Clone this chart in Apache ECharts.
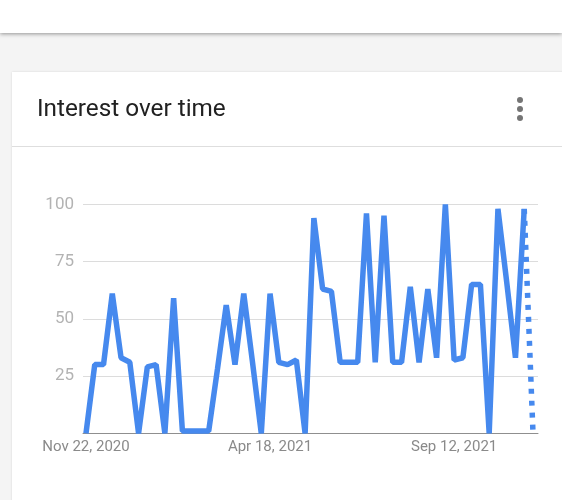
<!DOCTYPE html>
<html><head><meta charset="utf-8">
<script src="https://cdn.jsdelivr.net/npm/echarts@6/dist/echarts.min.js"></script>
<style>html,body{margin:0;padding:0;background:#f4f4f4;}#c{width:562px;height:500px;}</style>
</head><body><div id="c"></div>
<script>
const weeks = [
  "Nov 22, 2020","Nov 29, 2020","Dec 6, 2020","Dec 13, 2020","Dec 20, 2020","Dec 27, 2020",
  "Jan 3, 2021","Jan 10, 2021","Jan 17, 2021","Jan 24, 2021","Jan 31, 2021","Feb 7, 2021",
  "Feb 14, 2021","Feb 21, 2021","Feb 28, 2021","Mar 7, 2021","Mar 14, 2021","Mar 21, 2021",
  "Mar 28, 2021","Apr 4, 2021","Apr 11, 2021","Apr 18, 2021","Apr 25, 2021","May 2, 2021",
  "May 9, 2021","May 16, 2021","May 23, 2021","May 30, 2021","Jun 6, 2021","Jun 13, 2021",
  "Jun 20, 2021","Jun 27, 2021","Jul 4, 2021","Jul 11, 2021","Jul 18, 2021","Jul 25, 2021",
  "Aug 1, 2021","Aug 8, 2021","Aug 15, 2021","Aug 22, 2021","Aug 29, 2021","Sep 5, 2021",
  "Sep 12, 2021","Sep 19, 2021","Sep 26, 2021","Oct 3, 2021","Oct 10, 2021","Oct 17, 2021",
  "Oct 24, 2021","Oct 31, 2021","Nov 7, 2021","Nov 14, 2021"
];
const interest = [
  0, 30, 30, 61, 33, 31, 0, 29, 30, 0,
  59, 1, 1, 1, 1, 28, 56, 30, 61, 31,
  0, 61, 31, 30, 32, 0, 94, 63, 62, 31,
  31, 31, 96, 31, 95, 31, 31, 64, 31, 63,
  33, 100, 32, 33, 65, 65, 0, 98, 66, 33,
  98, 0
];
const xTickIndices = [0, 21, 42];
const yTickLabels = [25, 50, 75, 100];
const chartTitle = "Interest over time";

const last = interest.length - 1;
const solidData = interest.slice(0, last).map((v, i) => [i, v]);
const partialData = [[last - 1, interest[last - 1]], [last, interest[last]]];

const chart = echarts.init(document.getElementById('c'), null, {renderer: 'canvas'});
const lineColor = '#4689ee';
chart.setOption({
  backgroundColor: '#f4f4f4',
  animation: false,
  textStyle: {fontFamily: 'Roboto'},
  graphic: [
    {type: 'rect', z: 0, shape: {x: 0, y: -10, width: 562, height: 43},
     style: {fill: '#ffffff', shadowBlur: 4, shadowOffsetY: 1, shadowColor: 'rgba(0,0,0,0.4)'}},
    {type: 'rect', z: 0, shape: {x: 12, y: 72, width: 560, height: 440},
     style: {fill: '#ffffff', shadowBlur: 2, shadowColor: 'rgba(0,0,0,0.12)'}},
    {type: 'line', z: 1, shape: {x1: 12, y1: 146.5, x2: 562, y2: 146.5},
     style: {stroke: '#dedede', lineWidth: 1}},
    {type: 'text', z: 2, x: 37, y: 109.5,
     style: {text: chartTitle, fill: '#212121', font: '24.3px Roboto', verticalAlign: 'middle'}},
    {type: 'circle', z: 2, shape: {cx: 520, cy: 100, r: 3}, style: {fill: '#757575'}},
    {type: 'circle', z: 2, shape: {cx: 520, cy: 109, r: 3}, style: {fill: '#757575'}},
    {type: 'circle', z: 2, shape: {cx: 520, cy: 118, r: 3}, style: {fill: '#757575'}}
  ],
  grid: {left: 83, right: 24, top: 204.3, bottom: 66.7, containLabel: false},
  xAxis: {
    type: 'value', min: -0.34, max: 51.57,
    axisLine: {show: true, lineStyle: {color: '#8f8f8f', width: 1}},
    axisTick: {show: false},
    splitLine: {show: false},
    axisLabel: {
      customValues: xTickIndices,
      formatter: v => weeks[Math.round(v)],
      color: '#8a8a8a', fontSize: 15, fontFamily: 'Roboto', margin: 6,
      showMinLabel: true, showMaxLabel: true
    }
  },
  yAxis: {
    type: 'value', min: 0, max: 100, interval: 25,
    axisLine: {show: false}, axisTick: {show: false},
    splitLine: {lineStyle: {color: '#dcdcdc', width: 1}},
    axisLabel: {
      formatter: v => yTickLabels.includes(v) ? String(v) : '',
      color: '#b3b3b3', fontSize: 17, fontFamily: 'Roboto', margin: 9
    }
  },
  series: [
    {type: 'line', data: solidData, showSymbol: false, symbol: 'none',
     lineStyle: {color: lineColor, width: 5.5, join: 'bevel'}, z: 3},
    {type: 'line', data: partialData, showSymbol: false, symbol: 'none',
     lineStyle: {color: lineColor, width: 5.5, type: [5, 7], cap: 'butt'}, z: 3}
  ]
});
</script></body></html>
